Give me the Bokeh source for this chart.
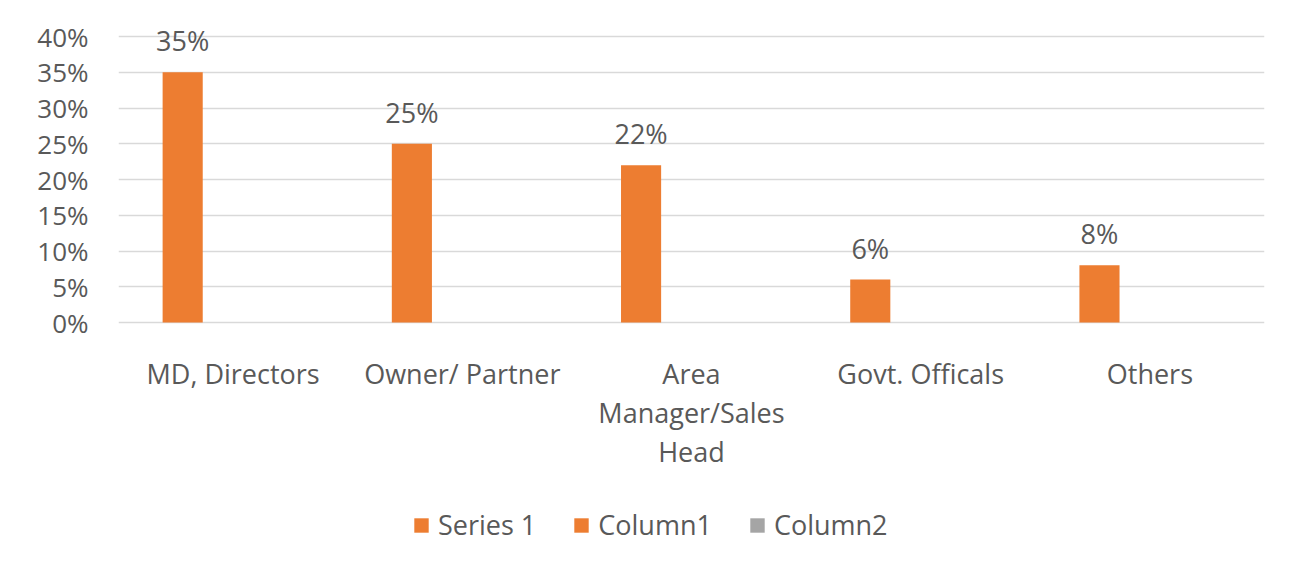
from bokeh.plotting import figure
from bokeh.models import ColumnDataSource, Legend, LegendItem, FactorRange, NumeralTickFormatter, FixedTicker
from bokeh.transform import dodge
from bokeh.core.properties import value
from bokeh.embed import file_html
from bokeh.resources import INLINE

categories = ["MD, Directors", "Owner/ Partner", "Area\nManager/Sales\nHead", "Govt. Officals", "Others"]
series1 = [0.35, 0.25, 0.22, 0.06, 0.08]
column1 = [0, 0, 0, 0, 0]
column2 = [0, 0, 0, 0, 0]
labels = ["35%", "25%", "22%", "6%", "8%"]
y_ticks = [0, 0.05, 0.10, 0.15, 0.20, 0.25, 0.30, 0.35, 0.40]
legend_names = ["Series 1", "Column1", "Column2"]

ORANGE = "#ed7d31"
GREY = "#a5a5a5"
TXT = "#595959"
FONT = "Open Sans"
FS = "27px"

# 286 px span for 0..40%; frame extended above and below so texts sit inside it
PX = 0.40 / 286
Y_TOP = 0.40 + 36 * PX
Y_BOTTOM = -230 * PX

src = ColumnDataSource(dict(cat=categories, val=series1, c1=column1, c2=column2,
                            lab=labels, zero=[0] * len(categories)))

p = figure(x_range=FactorRange(*categories), y_range=(Y_BOTTOM, Y_TOP),
           width=1277, height=552, output_backend="svg", toolbar_location=None,
           min_border_left=118, min_border_right=13, min_border_top=0, min_border_bottom=0)
p.x_range.range_padding = 0
p.outline_line_color = None
p.background_fill_color = "white"
p.border_fill_color = "white"

r1 = p.vbar(x=dodge("cat", -0.22, range=p.x_range), top="val", width=0.175, source=src,
            fill_color=ORANGE, line_color=None)
r2 = p.vbar(x="cat", top="c1", width=0.175, source=src, fill_color=ORANGE, line_color=None)
r3 = p.vbar(x=dodge("cat", 0.22, range=p.x_range), top="c2", width=0.175, source=src,
            fill_color=GREY, line_color=None)

# data labels
p.text(x=dodge("cat", -0.22, range=p.x_range), y="val", text="lab", source=src,
       text_align="center", text_baseline="bottom", y_offset=-13,
       text_font=value(FONT), text_font_size=FS, text_color=TXT)

# category labels
p.text(x="cat", y="zero", text="cat", source=src,
       text_align="center", text_baseline="top", y_offset=32, text_line_height=1.065,
       text_font=value(FONT), text_font_size=FS, text_color=TXT)

p.xaxis.visible = False
p.yaxis.ticker = FixedTicker(ticks=y_ticks)
p.yaxis.formatter = NumeralTickFormatter(format="0%")
p.yaxis.axis_line_color = None
p.yaxis.major_tick_line_color = None
p.yaxis.minor_tick_line_color = None
p.yaxis.major_label_text_font = FONT
p.yaxis.major_label_text_font_size = "26px"
p.yaxis.major_label_text_color = TXT
p.yaxis.major_label_standoff = 24
p.xgrid.grid_line_color = None
p.ygrid.ticker = FixedTicker(ticks=y_ticks)
p.ygrid.grid_line_color = "#d9d9d9"
p.ygrid.grid_line_width = 1.5

legend = Legend(items=[LegendItem(label=legend_names[0], renderers=[r1]),
                       LegendItem(label=legend_names[1], renderers=[r2]),
                       LegendItem(label=legend_names[2], renderers=[r3])],
                orientation="horizontal", location=(294, 9), margin=0, padding=8,
                label_text_font=FONT, label_text_font_size=FS, label_text_color=TXT,
                glyph_width=18, glyph_height=18, spacing=36, label_standoff=8,
                border_line_color=None, background_fill_alpha=0)
p.add_layout(legend, "center")

open("out.html", "w").write(file_html(p, INLINE))
